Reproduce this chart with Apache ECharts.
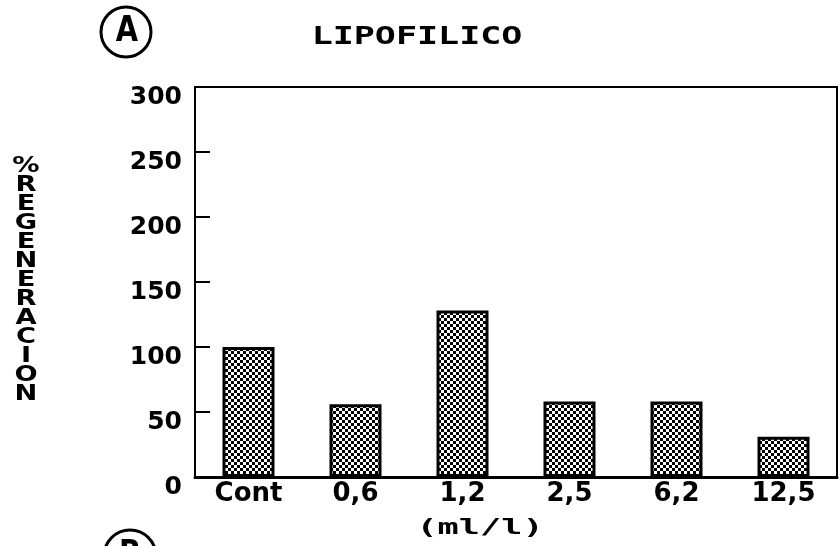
<!DOCTYPE html>
<html>
<head>
<meta charset="utf-8">
<script src="https://cdn.jsdelivr.net/npm/echarts@6/dist/echarts.min.js"></script>
<style>html,body{margin:0;padding:0;background:#fff;}#c{width:839px;height:546px;}</style>
</head>
<body>
<div id="c"></div>
<script>
const categories = ['Cont', '0,6', '1,2', '2,5', '6,2', '12,5'];
const regeneracion = [100, 56, 128, 58, 58, 31];
const yTicks = [0, 50, 100, 150, 200, 250, 300];
const titleText = 'LIPOFILICO';
const yName = '%REGENERACION';
const xName = '(ml/l)';

const pat = document.createElement('canvas');
pat.width = 6; pat.height = 6;
const pc = pat.getContext('2d');
pc.fillStyle = '#fff'; pc.fillRect(0, 0, 6, 6);
pc.fillStyle = '#000'; pc.fillRect(0, 0, 3, 3); pc.fillRect(3, 3, 3, 3);

const FONT = 'DejaVu Sans';
const chart = echarts.init(document.getElementById('c'));
chart.setOption({
  animation: false,
  backgroundColor: '#fff',
  grid: { left: 195, right: 2, top: 87, bottom: 69, show: true, borderColor: '#000', borderWidth: 2, containLabel: false },
  xAxis: {
    type: 'category',
    data: categories,
    boundaryGap: true,
    axisLine: { lineStyle: { color: '#000', width: 3 } },
    axisTick: { show: false },
    axisLabel: { color: '#000', fontFamily: FONT, fontWeight: 'bold', fontSize: 26, margin: 4 }
  },
  yAxis: {
    type: 'value',
    min: yTicks[0],
    max: yTicks[yTicks.length - 1],
    interval: yTicks[1] - yTicks[0],
    splitLine: { show: false },
    axisLine: { show: true, lineStyle: { color: '#000', width: 2 } },
    axisTick: { show: true, inside: true, length: 15, lineStyle: { color: '#000', width: 2 } },
    axisLabel: { color: '#000', fontFamily: FONT, fontWeight: 'bold', fontSize: 25, margin: 13, verticalAlign: 'top', padding: [-2, 0, 0, 0] }
  },
  series: [{
    type: 'bar',
    data: regeneracion,
    barWidth: 52,
    itemStyle: { color: { image: pat, repeat: 'repeat' }, borderColor: '#000', borderWidth: 3 }
  }],
  graphic: [
    { type: 'text', x: 417, y: 37, scaleX: 1.4, style: { text: titleText, fill: '#000', font: 'bold 25px "DejaVu Sans Mono"', textAlign: 'center', textVerticalAlign: 'middle' } },
    { type: 'text', x: 480, y: 528, scaleX: 1.6, style: { text: xName, fill: '#000', font: 'bold 22px "DejaVu Sans Mono"', textAlign: 'center', textVerticalAlign: 'middle' } },
    { type: 'text', x: 26, y: 281, scaleX: 1.3, style: { text: yName.split('').join('\n'), fill: '#000', font: 'bold 21px "DejaVu Sans"', lineHeight: 19, textAlign: 'center', textVerticalAlign: 'middle' } },
    { type: 'circle', shape: { cx: 126, cy: 32, r: 25 }, style: { fill: 'none', stroke: '#000', lineWidth: 3 } },
    { type: 'text', x: 127, y: 32, scaleX: 0.8, style: { text: 'A', fill: '#000', font: 'bold 36px "DejaVu Sans"', textAlign: 'center', textVerticalAlign: 'middle' } },
    { type: 'circle', shape: { cx: 130, cy: 556, r: 26 }, style: { fill: 'none', stroke: '#000', lineWidth: 3 } },
    { type: 'text', x: 130, y: 556, scaleX: 0.8, style: { text: 'B', fill: '#000', font: 'bold 36px "DejaVu Sans"', textAlign: 'center', textVerticalAlign: 'middle' } }
  ]
});
</script>
</body>
</html>
